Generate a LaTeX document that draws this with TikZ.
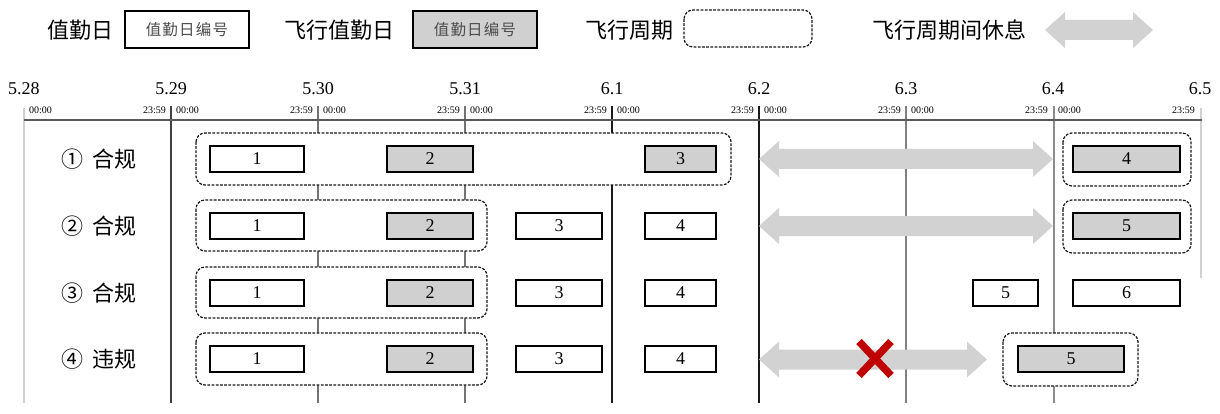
\documentclass[tikz,border=0pt]{standalone}
\usepackage{fontspec}
\setmainfont{Liberation Serif}
\newfontfamily\cjk{Noto Sans CJK SC}
\newfontfamily\cjkspaced[LetterSpace=8]{Noto Sans CJK SC}
\usetikzlibrary{calc}
\definecolor{restgray}{HTML}{D2D2D2}
\definecolor{boxgray}{HTML}{D0D0D0}
\definecolor{xred}{HTML}{C00000}
\newcommand{\restarrow}[2]{%
  \fill[restgray] (#1) -- ($(#1)+(20,18)$) -- ($(#1)+(20,10)$) -- ($(#2)+(-20,10)$) -- ($(#2)+(-20,18)$) -- (#2)
   -- ($(#2)+(-20,-18)$) -- ($(#2)+(-20,-10)$) -- ($(#1)+(20,-10)$) -- ($(#1)+(20,-18)$) -- cycle;}
\tikzset{
  daybox/.style={draw=black, line width=1.3pt, fill=white, minimum height=26pt, inner sep=0pt,
    font=\fontsize{18}{20}\selectfont},
  flybox/.style={daybox, fill=boxgray},
  period/.style={draw=black!90, line width=1.25pt, dash pattern=on 2.8pt off 1.4pt, rounded corners=9pt, fill=white},
  datelbl/.style={font=\fontsize{18}{20}\selectfont, inner sep=0pt},
  timelbl/.style={font=\fontsize{10}{11}\selectfont, inner sep=0pt},
  cjklbl/.style={font=\cjk\fontsize{22}{24}\selectfont, inner sep=0pt},
  rowlbl/.style={font=\cjk\fontsize{22}{24}\selectfont, inner sep=0pt},
  dayline/.style={line width=1.1pt},
  legtext/.style={font=\cjkspaced\fontsize{15.5}{18}\selectfont, text=black!70},
}
\begin{document}
\begin{tikzpicture}[x=1pt,y=-1pt]
\useasboundingbox (0,0) rectangle (1220,414);
% ---------- legend ----------
\node[cjklbl] (lg1) at (80,30) {值勤日};
\node[daybox, minimum width=124pt, minimum height=37pt, line width=1.1pt, legtext] (lgb1) at (187,29.5) {值勤日编号};
\node[cjklbl] (lg2) at (339.5,30) {飞行值勤日};
\node[flybox, minimum width=124pt, minimum height=37pt, line width=1.1pt, legtext] (lgb2) at (475,29.5) {值勤日编号};
\node[cjklbl] (lg3) at (629,30) {飞行周期};
\draw[period] (684,10) rectangle (812,47);
\node[cjklbl] (lg4) at (949,30) {飞行周期间休息};
\coordinate (la) at (1045,30);
\coordinate (lb) at (1153,30);
\restarrow{la}{lb}
% ---------- day lines ----------
\draw[dayline, black!18] (24,108) -- (24,403);
\draw[dayline, black!18] (1201,108) -- (1201,278);
\draw[dayline, black!75] (171,106) -- (171,403);
\draw[dayline, black!55] (318,106) -- (318,403);
\draw[dayline, black!55] (465,106) -- (465,403);
\draw[dayline, black!90] (612,106) -- (612,403);
\draw[dayline, black!90] (759,106) -- (759,403);
\draw[dayline, black!50] (906,106) -- (906,403);
\draw[dayline, black!45] (1054,106) -- (1054,403);
\draw[line width=2pt, black!65] (24,120) -- (1202,120);
% ---------- axis labels ----------
\foreach \i/\d in {0/5.28,1/5.29,2/5.30,3/5.31,4/6.1,5/6.2,6/6.3,7/6.4,8/6.5}{
  \node[datelbl] (d\i) at ({24+147*\i},89) {\d};
}
\foreach \i in {1,...,8}{
  \node[timelbl, anchor=east] (te\i) at ({24+147*\i-5},110) {23:59};
}
\foreach \i in {0,...,7}{
  \node[timelbl, anchor=west] (tb\i) at ({24+147*\i+5},110) {00:00};
}
% ---------- row labels ----------
\node[rowlbl] (r1) at (99,159) {①\hspace{9pt}合规};
\node[rowlbl] (r2) at (99,226) {②\hspace{9pt}合规};
\node[rowlbl] (r3) at (99,293) {③\hspace{9pt}合规};
\node[rowlbl] (r4) at (99,359) {④\hspace{9pt}违规};
% ---------- flight periods ----------
\draw[period] (196,133) rectangle (731,185);
\draw[period] (1063,133) rectangle (1191,186);
\draw[period] (196,200) rectangle (487,251);
\draw[period] (1063,200) rectangle (1191,253);
\draw[period] (196,267) rectangle (487,318);
\draw[period] (196,333) rectangle (487,385);
\draw[period] (1003,333) rectangle (1138,386);
% ---------- row 1 ----------
\node[daybox, minimum width=94pt] (a1) at (257,159) {1};
\node[flybox, minimum width=86pt] (a2) at (430,159) {2};
\node[flybox, minimum width=71pt] (a3) at (680.5,159) {3};
\node[flybox, minimum width=107pt] (a4) at (1126.5,159) {4};
% ---------- row 2 ----------
\node[daybox, minimum width=94pt] (b1) at (257,226) {1};
\node[flybox, minimum width=86pt] (b2) at (430,226) {2};
\node[daybox, minimum width=86pt] (b3) at (559,226) {3};
\node[daybox, minimum width=71pt] (b4) at (680.5,226) {4};
\node[flybox, minimum width=107pt] (b5) at (1126.5,226) {5};
% ---------- row 3 ----------
\node[daybox, minimum width=94pt] (c1) at (257,293) {1};
\node[flybox, minimum width=86pt] (c2) at (430,293) {2};
\node[daybox, minimum width=86pt] (c3) at (559,293) {3};
\node[daybox, minimum width=71pt] (c4) at (680.5,293) {4};
\node[daybox, minimum width=65pt] (c5) at (1005.5,293) {5};
\node[daybox, minimum width=107pt] (c6) at (1126.5,293) {6};
% ---------- row 4 ----------
\node[daybox, minimum width=94pt] (e1) at (257,359) {1};
\node[flybox, minimum width=86pt] (e2) at (430,359) {2};
\node[daybox, minimum width=86pt] (e3) at (559,359) {3};
\node[daybox, minimum width=71pt] (e4) at (680.5,359) {4};
\node[flybox, minimum width=106pt] (e5) at (1071,359) {5};
% ---------- rest arrows ----------
\coordinate (p1a) at (759,159); \coordinate (p1b) at (1053,159);
\coordinate (p2a) at (759,226); \coordinate (p2b) at (1053,226);
\coordinate (p4a) at (759,359.5); \coordinate (p4b) at (987,359.5);
\restarrow{p1a}{p1b}
\restarrow{p2a}{p2b}
\restarrow{p4a}{p4b}
% ---------- violation mark ----------
\coordinate (xc) at (875,358.5);
\draw[xred, line width=7.5pt] ($(xc)+(-16,-17)$) -- ($(xc)+(16,17)$);
\draw[xred, line width=7.5pt] ($(xc)+(-16,17)$) -- ($(xc)+(16,-17)$);
\end{tikzpicture}
\end{document}
